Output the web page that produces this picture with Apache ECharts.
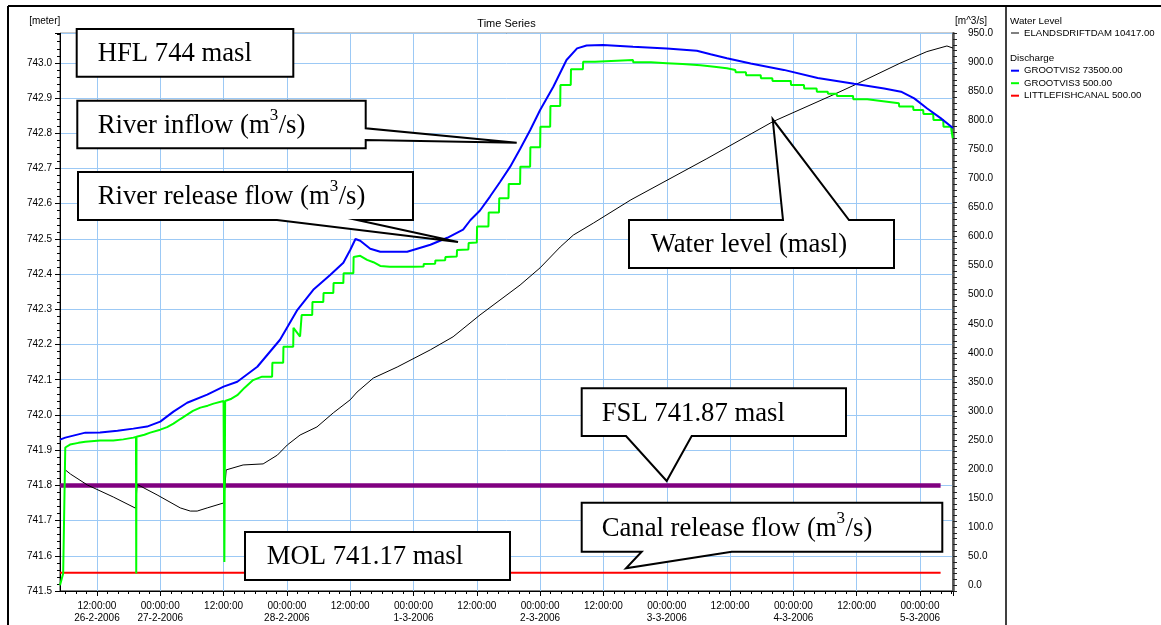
<!DOCTYPE html>
<html>
<head>
<meta charset="utf-8">
<script src="https://cdn.jsdelivr.net/npm/echarts@6/dist/echarts.min.js"></script>
<style>
html,body{margin:0;padding:0;background:#fff;}
#chart{width:1161px;height:625px;}
</style>
</head>
<body>
<div id="chart"></div>
<script>
// ---- time reference: all hours are counted from 26-2-2006 00:00 ----
const startYear = 2006, startMonth = 1, startDay = 26;
const axisStartHour = 5.0;
const axisEndHour = 174.25;
const tickHours = 12, minorPerTick = 6;

// ---- Water level (left axis, metres) : ELANDSDRIFTDAM ----
const levelHours = [6.0, 7.0, 10.2, 15.1, 19.35, 19.6, 23.4, 27.8, 29.7, 31.0, 32.9, 36.0, 36.5, 39.7, 43.5, 46.2, 48.1, 50.5, 53.7, 56.8, 60.0, 61.3, 64.4, 68.9, 75.2, 79.5, 84.6, 92.2, 96.0, 99.8, 102.3, 106.1, 113.2, 127.6, 140.1, 151.5, 156.0, 164.2, 169.3, 173.1, 174.25];
const levelValues = [741.844, 741.832, 741.801, 741.767, 741.735, 741.803, 741.773, 741.736, 741.727, 741.727, 741.736, 741.750, 741.844, 741.858, 741.861, 741.886, 741.915, 741.943, 741.966, 742.006, 742.043, 742.065, 742.105, 742.136, 742.185, 742.222, 742.284, 742.369, 742.418, 742.477, 742.511, 742.545, 742.611, 742.728, 742.833, 742.909, 742.940, 742.999, 743.032, 743.048, 743.042];

// ---- Discharge GROOTVIS2 (river inflow, m3/s) ----
const inflowHours = [5.0, 6.0, 9.8, 12.6, 15.9, 18.9, 21.5, 24.0, 26.5, 29.1, 32.9, 36.0, 38.6, 42.4, 46.7, 50.0, 53.0, 56.2, 58.7, 60.0, 61.0, 61.9, 63.8, 65.7, 70.8, 75.2, 78.4, 81.4, 82.8, 84.6, 86.5, 88.4, 90.3, 92.2, 94.1, 96.0, 98.5, 101.0, 103.0, 104.8, 107.9, 113.6, 120.0, 125.7, 128.3, 131.4, 135.9, 142.2, 148.6, 155.5, 161.2, 164.4, 166.9, 169.3, 171.9, 174.25];
const inflowValues = [250.6, 254, 262.6, 263, 266, 269.5, 273, 281.5, 298.7, 314, 328, 341.7, 350.3, 376, 422.5, 474, 508.5, 534, 555, 577, 596, 593, 579, 574, 574, 586, 598, 612, 628.6, 645, 669, 694, 720, 751, 783, 818, 858, 904, 924, 929, 930, 927, 924, 920, 914, 907, 898, 887, 873, 863, 855, 849.5, 838, 821, 804, 787];

// ---- Discharge GROOTVIS3 (river release flow, m3/s) : polyline incl. stair corners ----
const releaseHours = [
  5.0, 5.6, 5.9, 6.0, 6.9, 8.5, 9.8, 12.6, 15.1, 17.0, 18.9, 19.4, 19.45, 19.5, 21.0, 22.1, 24.0, 25.3, 26.5, 27.8, 29.1, 30.2, 31.6, 33.0, 34.1, 36.0, 36.15, 36.3, 37.5, 38.6, 40.0, 41.6, 43.3,
  45.2, 45.25, 47.3, 47.35, 49.2, 49.25, 50.5, 50.8, 52.8, 52.85, 54.9, 54.95, 56.8, 56.85, 58.7, 58.75, 60.6, 60.65, 61.9, 63.2, 64.4, 65.7, 67.5, 72.0,
  73.9, 73.95, 76.1, 76.15, 78.0, 78.05, 80.2, 80.25, 82.4, 82.45, 84.0, 84.05, 86.2, 86.25, 88.2, 88.25, 90.0, 90.05, 92.2, 92.25, 94.1, 94.15, 96.0, 96.05, 97.9, 97.95, 99.8, 99.85, 101.8, 101.85, 104.1, 104.15, 106.4, 106.45,
  113.6, 113.65, 117.0, 117.05, 120.0, 120.05, 123.0, 123.05, 126.4, 126.45, 129.0, 129.05, 131.4, 131.45, 133.0, 133.05, 135.0, 135.05, 137.8, 137.85, 140.0, 140.05, 143.5, 143.55, 146.0, 146.05, 148.4, 148.45, 150.5, 150.55, 152.2, 152.25, 155.3, 155.35, 158.0, 158.05, 161.0, 161.05, 164.0, 164.05, 166.7, 166.75, 168.6, 168.65, 170.5, 170.55, 172.4, 172.45, 173.9, 173.95, 174.15, 174.2, 174.25];
const releaseValues = [
  0, 20, 20, 237, 242, 245, 247, 249, 249, 251, 254, 255, 20, 255.5, 259, 262.6, 267.7, 272, 278, 286, 293.5, 300, 305.6, 309, 312.5, 317, 40, 317, 321, 327, 340, 353, 359,
  359, 383, 383, 410.5, 410.5, 443, 428, 465, 465, 487.6, 487.6, 503, 503, 520, 520, 537, 537, 565, 567, 560, 556, 549.5, 548, 548,
  548.5, 553, 553.5, 559, 559.5, 565, 566, 577, 578, 589, 590, 617.4, 617.4, 641.4, 641.4, 666.2, 666.2, 690.8, 690.8, 720.5, 720.5, 753.9, 753.9, 789.3, 789.3, 825, 825, 861, 861, 888, 888, 901, 901, 904,
  904, 900, 900, 898.5, 898.5, 897, 897, 895, 895, 892.5, 892.5, 890, 890, 886.8, 886.8, 883, 883, 878, 878, 872.6, 872.6, 868, 868, 861, 861, 855, 855, 849.5, 849.5, 846, 846, 842.2, 842.2, 836.4, 836.4, 833, 833, 829.6, 829.6, 824, 824, 818, 818, 811.2, 811.2, 800.9, 800.9, 789.3, 789.3, 783.6, 783.6, 769.4, 769.4];

// ---- Discharge LITTLEFISHCANAL (canal release flow, m3/s) ----
const canalHours = [5.0, 171.9];
const canalValues = [21.5, 21.5];

// ---- FSL reference line (left axis, metres) ----
const fslHours = [5.0, 171.9];
const fslValues = [741.8, 741.8];

// ---- axis settings ----
const levelAxisMin = 741.5, levelAxisMax = 743.084, levelAxisStep = 0.1;
const flowAxisMin = -10, flowAxisMax = 950, flowAxisStep = 10, flowLabelStep = 50;

const seriesNames = ['ELANDSDRIFTDAM 10417.00', 'GROOTVIS2 73500.00', 'GROOTVIS3 500.00', 'LITTLEFISHCANAL 500.00'];

const zip = (hs, vs) => hs.map((h, i) => [h, vs[i]]);
const pad = n => (n < 10 ? '0' : '') + n;
const firstLabelHour = Math.ceil(axisStartHour / tickHours) * tickHours;
function hourLabel(h) {
  const d = new Date(startYear, startMonth, startDay, 0, 0, 0);
  d.setTime(d.getTime() + Math.round(h * 3600000));
  const time = pad(d.getHours()) + ':' + pad(d.getMinutes()) + ':' + pad(d.getSeconds());
  const withDate = d.getHours() === 0 || Math.abs(h - firstLabelHour) < 1e-6;
  return withDate ? time + '\n' + d.getDate() + '-' + (d.getMonth() + 1) + '-' + d.getFullYear() : time;
}

// ---- layout ----
const plotLeft = 60, plotRight = 953, plotTop = 33.3, plotBottomGap = 34, W = 1161;
const pxPerHour = (plotRight - plotLeft) / (axisEndHour - axisStartHour);
const tickGridLeft = plotLeft - axisStartHour * pxPerHour; // tick grid starts at hour 0 so ticks fall on whole 12 h steps

const SANS = '"Liberation Sans", Arial, sans-serif';
const SERIF = '"Liberation Serif", "Times New Roman", serif';
const GRID_BLUE = '#9cc9f5';

const mctx = document.createElement('canvas').getContext('2d');
function textWidth(str, size) { mctx.font = size + 'px ' + SERIF; return mctx.measureText(str).width; }
const MAIN_SIZE = 26.7, SUP_SIZE = 17, SUP_RISE = 14, MID = 0.3375;

function textEl(str, x, y, size, font, align) {
  return { type: 'text', z: 101, style: { text: str, x: x, y: y, font: size + 'px ' + font, fill: '#000',
    textAlign: align || 'left', align: align || 'left', textVerticalAlign: 'middle', verticalAlign: 'middle' } };
}
function callout(points, x, baseline, parts) {
  const els = [{ type: 'polygon', z: 100, shape: { points: points }, style: { fill: '#fff', stroke: '#000', lineWidth: 2, lineJoin: 'miter' } }];
  let cx = x;
  parts.forEach(p => {
    const size = p.sup ? SUP_SIZE : MAIN_SIZE;
    const base = p.sup ? baseline - SUP_RISE : baseline;
    els.push(textEl(p.t, cx, base - MID * size, size, SERIF));
    cx += textWidth(p.t, size) + (p.sup ? 0.5 : 0);
  });
  return els;
}

const graphics = [].concat(
  [
    // white strip hiding the tick grid's part before the plot start (below the y axis)
    { type: 'rect', z: 1, shape: { x: 26, y: 30, width: plotLeft - 26 - 0.8, height: 568 }, style: { fill: '#fff' } },
    { type: 'line', z: 50, shape: { x1: 8, y1: 6, x2: W, y2: 6 }, style: { stroke: '#000', lineWidth: 2 } },
    { type: 'line', z: 50, shape: { x1: 8, y1: 6, x2: 8, y2: 625 }, style: { stroke: '#000', lineWidth: 2 } },
    { type: 'line', z: 50, shape: { x1: 1006, y1: 6, x2: 1006, y2: 625 }, style: { stroke: '#000', lineWidth: 1.5 } },
    textEl('Time Series', 506.5, 24, 11, SANS, 'center'),
    textEl('[meter]', 44.7, 21.5, 10, SANS, 'center'),
    textEl('[m^3/s]', 971, 21, 10, SANS, 'center'),
    textEl('Water Level', 1010, 21, 9.8, SANS),
    textEl('Discharge', 1010, 58, 9.8, SANS)
  ],
  callout([[76.7, 29], [293.3, 29], [293.3, 76.7], [76.7, 76.7]], 97.7, 63.3, [{ t: 'HFL 744 masl' }]),
  callout([[77.3, 100.7], [365.7, 100.7], [365.7, 128.3], [516.7, 142.7], [365.7, 140], [365.7, 148.3], [77.3, 148.3]], 97.7, 135, [{ t: 'River inflow (m' }, { t: '3', sup: true }, { t: '/s)' }]),
  callout([[78, 172], [413, 172], [413, 220], [357, 220], [458, 242], [277, 220], [78, 220]], 97.7, 206.5, [{ t: 'River release flow (m' }, { t: '3', sup: true }, { t: '/s)' }]),
  callout([[629, 220], [783, 220], [772.7, 119.3], [849, 220], [894, 220], [894, 268], [629, 268]], 650.7, 254.5, [{ t: 'Water level (masl)' }]),
  callout([[581.7, 388.3], [846, 388.3], [846, 436], [691.7, 436], [666.7, 481], [626, 436], [581.7, 436]], 601.7, 423, [{ t: 'FSL 741.87 masl' }]),
  callout([[581.7, 502.7], [942.3, 502.7], [942.3, 551.7], [731.7, 551.7], [626, 568.3], [641.7, 551.7], [581.7, 551.7]], 601.7, 538.3, [{ t: 'Canal release flow (m' }, { t: '3', sup: true }, { t: '/s)' }]),
  callout([[245, 532], [510, 532], [510, 580], [245, 580]], 266.7, 566.5, [{ t: 'MOL 741.17 masl' }])
);

const legendText = { fontSize: 9.6, color: '#000', lineHeight: 12.5, fontFamily: SANS };

const chart = echarts.init(document.getElementById('chart'), null, { renderer: 'canvas' });
chart.setOption({
  animation: false,
  backgroundColor: '#fff',
  textStyle: { fontFamily: SANS },
  grid: [
    { left: plotLeft, right: W - plotRight, top: plotTop, bottom: plotBottomGap, show: true, borderColor: '#000', borderWidth: 1, containLabel: false },
    { left: tickGridLeft, right: W - plotRight, top: plotTop, bottom: plotBottomGap, show: false, containLabel: false }
  ],
  legend: [
    { data: [seriesNames[0]], left: 1011, top: 26.75, orient: 'vertical', icon: 'rect', itemWidth: 8, itemHeight: 1, itemGap: 0, padding: 0, selectedMode: false, textStyle: legendText },
    { data: seriesNames.slice(1), left: 1011, top: 64.45, orient: 'vertical', icon: 'rect', itemWidth: 8, itemHeight: 2, itemGap: 0, padding: 0, selectedMode: false, textStyle: legendText }
  ],
  xAxis: [
    { // data axis of the plot
      type: 'value', gridIndex: 0, min: axisStartHour, max: axisEndHour, z: 4,
      axisLine: { show: true, onZero: false, lineStyle: { color: '#000', width: 1 } },
      axisTick: { show: false }, axisLabel: { show: false }, splitLine: { show: false }
    },
    { // tick / label / grid axis, same scale, counted from hour 0
      type: 'value', gridIndex: 1, min: 0, max: axisEndHour, interval: tickHours, z: 0,
      axisLine: { show: false, onZero: false },
      axisTick: { show: true, length: 5, lineStyle: { color: '#000' } },
      minorTick: { show: true, splitNumber: minorPerTick, length: 3, lineStyle: { color: '#000' } },
      splitLine: { show: true, lineStyle: { color: GRID_BLUE, width: 1 } },
      axisLabel: { fontSize: 10, color: '#000', lineHeight: 12, margin: 9, verticalAlign: 'top',
        formatter: h => (h < axisStartHour || Math.abs(h % tickHours) > 1e-6) ? '' : hourLabel(h) }
    }
  ],
  yAxis: [
    {
      type: 'value', gridIndex: 0, position: 'left', min: levelAxisMin, max: levelAxisMax, interval: levelAxisStep, z: 3,
      axisLine: { show: true, onZero: false, lineStyle: { color: '#000', width: 1 } },
      axisTick: { show: true, length: 5, lineStyle: { color: '#000' } },
      minorTick: { show: true, splitNumber: 5, length: 3, lineStyle: { color: '#000' } },
      splitLine: { show: true, lineStyle: { color: GRID_BLUE, width: 1 } },
      axisLabel: { fontSize: 10, color: '#000', margin: 8, showMaxLabel: false, formatter: v => v.toFixed(1) }
    },
    {
      type: 'value', gridIndex: 0, position: 'right', min: flowAxisMin, max: flowAxisMax, interval: flowAxisStep, z: 3,
      axisLine: { show: true, onZero: false, lineStyle: { color: '#555', width: 2.5 } },
      axisTick: { show: true, length: 4, lineStyle: { color: '#222' } },
      splitLine: { show: false },
      axisLabel: { fontSize: 10, color: '#000', margin: 15,
        formatter: v => (v >= 0 && Math.abs(v % flowLabelStep) < 1e-6) ? v.toFixed(1) : '' }
    },
    { type: 'value', gridIndex: 1, show: false, min: 0, max: 1 }
  ],
  series: [
    { name: 'FSL', type: 'line', xAxisIndex: 0, yAxisIndex: 0, data: zip(fslHours, fslValues), showSymbol: false, silent: true,
      lineStyle: { color: '#800080', width: 4.5 }, itemStyle: { color: '#800080' }, z: 10 },
    { name: seriesNames[3], type: 'line', xAxisIndex: 0, yAxisIndex: 1, data: zip(canalHours, canalValues), showSymbol: false,
      lineStyle: { color: '#ff0000', width: 2 }, itemStyle: { color: '#ff0000' }, z: 11 },
    { name: seriesNames[0], type: 'line', xAxisIndex: 0, yAxisIndex: 0, data: zip(levelHours, levelValues), showSymbol: false,
      lineStyle: { color: '#000', width: 1 }, itemStyle: { color: '#000' }, z: 12 },
    { name: seriesNames[2], type: 'line', xAxisIndex: 0, yAxisIndex: 1, data: zip(releaseHours, releaseValues), showSymbol: false,
      lineStyle: { color: '#00ff00', width: 2 }, itemStyle: { color: '#00ff00' }, z: 13 },
    { name: seriesNames[1], type: 'line', xAxisIndex: 0, yAxisIndex: 1, data: zip(inflowHours, inflowValues), showSymbol: false,
      lineStyle: { color: '#0000ff', width: 2 }, itemStyle: { color: '#0000ff' }, z: 14 }
  ],
  graphic: graphics
});
</script>
</body>
</html>
